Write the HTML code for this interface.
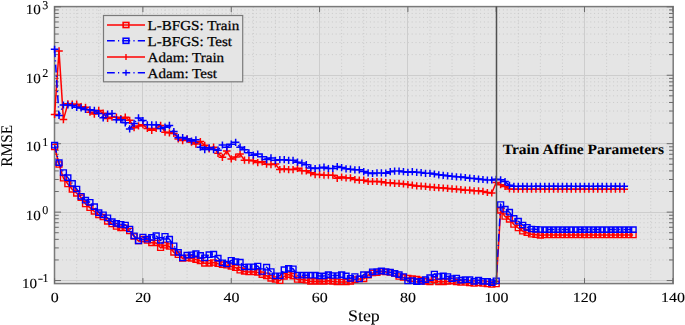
<!DOCTYPE html><html><head><meta charset="utf-8"><style>
html,body{margin:0;padding:0;background:#fff;}
body{width:685px;height:325px;overflow:hidden;position:relative;}
svg{position:absolute;left:0;top:0;filter:blur(0.35px);}
text{font-family:"Liberation Serif",serif;fill:#000000;stroke:#000000;stroke-width:0.25px;text-rendering:geometricPrecision;}
</style></head><body>
<svg width="685" height="325" viewBox="0 0 685 325">
<rect x="54.5" y="6.6" width="618.7" height="277.0" fill="#e5e5e5"/>
<path d="M76.68 6.6V283.6M98.76 6.6V283.6M120.84 6.6V283.6M165.00 6.6V283.6M187.08 6.6V283.6M209.16 6.6V283.6M253.32 6.6V283.6M275.40 6.6V283.6M297.48 6.6V283.6M341.64 6.6V283.6M363.72 6.6V283.6M385.80 6.6V283.6M429.96 6.6V283.6M452.04 6.6V283.6M474.12 6.6V283.6M518.28 6.6V283.6M540.36 6.6V283.6M562.44 6.6V283.6M606.60 6.6V283.6M628.68 6.6V283.6M650.76 6.6V283.6" stroke="#cacaca" stroke-width="1" stroke-dasharray="1 2.3" fill="none"/>
<path d="M54.5 259.96H673.2M54.5 247.91H673.2M54.5 239.36H673.2M54.5 232.72H673.2M54.5 227.30H673.2M54.5 222.72H673.2M54.5 218.75H673.2M54.5 215.25H673.2M54.5 191.52H673.2M54.5 179.47H673.2M54.5 170.92H673.2M54.5 164.28H673.2M54.5 158.86H673.2M54.5 154.28H673.2M54.5 150.31H673.2M54.5 146.81H673.2M54.5 123.08H673.2M54.5 111.03H673.2M54.5 102.48H673.2M54.5 95.84H673.2M54.5 90.42H673.2M54.5 85.84H673.2M54.5 81.87H673.2M54.5 78.37H673.2M54.5 54.64H673.2M54.5 42.59H673.2M54.5 34.04H673.2M54.5 27.40H673.2M54.5 21.98H673.2M54.5 17.40H673.2M54.5 13.43H673.2M54.5 9.93H673.2" stroke="#cacaca" stroke-width="1" stroke-dasharray="1 2.8" fill="none"/>
<path d="M142.50 6.6V283.6M231.50 6.6V283.6M319.50 6.6V283.6M407.50 6.6V283.6M496.50 6.6V283.6M584.50 6.6V283.6M54.5 212.50H673.2M54.5 143.50H673.2M54.5 75.50H673.2M54.5 280.50H673.2" stroke="#cdcdcd" stroke-width="1" fill="none"/>
<rect x="54.5" y="6.6" width="618.7" height="277.0" fill="none" stroke="#7a7a7a" stroke-width="1.5"/>
<path d="M54.60 283.6v-5.5M54.60 6.6v5.5M142.92 283.6v-5.5M142.92 6.6v5.5M231.24 283.6v-5.5M231.24 6.6v5.5M319.56 283.6v-5.5M319.56 6.6v5.5M407.88 283.6v-5.5M407.88 6.6v5.5M496.20 283.6v-5.5M496.20 6.6v5.5M584.52 283.6v-5.5M584.52 6.6v5.5M672.84 283.6v-5.5M672.84 6.6v5.5M54.5 280.56h6.5M673.2 280.56h-6.5M54.5 212.12h6.5M673.2 212.12h-6.5M54.5 143.68h6.5M673.2 143.68h-6.5M54.5 75.24h6.5M673.2 75.24h-6.5M54.5 6.80h6.5M673.2 6.80h-6.5M54.5 259.96h4.2M673.2 259.96h-4.2M54.5 247.91h4.2M673.2 247.91h-4.2M54.5 239.36h4.2M673.2 239.36h-4.2M54.5 232.72h4.2M673.2 232.72h-4.2M54.5 227.30h4.2M673.2 227.30h-4.2M54.5 222.72h4.2M673.2 222.72h-4.2M54.5 218.75h4.2M673.2 218.75h-4.2M54.5 215.25h4.2M673.2 215.25h-4.2M54.5 191.52h4.2M673.2 191.52h-4.2M54.5 179.47h4.2M673.2 179.47h-4.2M54.5 170.92h4.2M673.2 170.92h-4.2M54.5 164.28h4.2M673.2 164.28h-4.2M54.5 158.86h4.2M673.2 158.86h-4.2M54.5 154.28h4.2M673.2 154.28h-4.2M54.5 150.31h4.2M673.2 150.31h-4.2M54.5 146.81h4.2M673.2 146.81h-4.2M54.5 123.08h4.2M673.2 123.08h-4.2M54.5 111.03h4.2M673.2 111.03h-4.2M54.5 102.48h4.2M673.2 102.48h-4.2M54.5 95.84h4.2M673.2 95.84h-4.2M54.5 90.42h4.2M673.2 90.42h-4.2M54.5 85.84h4.2M673.2 85.84h-4.2M54.5 81.87h4.2M673.2 81.87h-4.2M54.5 78.37h4.2M673.2 78.37h-4.2M54.5 54.64h4.2M673.2 54.64h-4.2M54.5 42.59h4.2M673.2 42.59h-4.2M54.5 34.04h4.2M673.2 34.04h-4.2M54.5 27.40h4.2M673.2 27.40h-4.2M54.5 21.98h4.2M673.2 21.98h-4.2M54.5 17.40h4.2M673.2 17.40h-4.2M54.5 13.43h4.2M673.2 13.43h-4.2M54.5 9.93h4.2M673.2 9.93h-4.2" stroke="#6a6a6a" stroke-width="1.0" fill="none"/>
<polyline points="54.60,147.00 59.02,164.50 63.43,178.20 67.85,184.00 72.26,189.40 76.68,193.30 81.10,197.60 85.51,204.00 89.93,207.70 94.34,211.40 98.76,214.80 103.18,217.00 107.59,221.30 112.01,224.00 116.42,226.50 120.84,227.80 125.26,227.80 129.67,231.00 134.09,236.50 138.50,241.00 142.92,239.00 147.34,240.50 151.75,242.80 156.17,243.00 160.58,247.70 165.00,245.20 169.42,246.50 173.83,252.40 178.25,254.70 182.66,258.40 187.08,257.80 191.50,258.40 195.91,259.60 200.33,260.90 204.74,263.30 209.16,263.30 213.58,262.50 217.99,263.70 222.41,264.60 226.82,265.20 231.24,266.50 235.66,267.70 240.07,270.20 244.49,271.40 248.90,272.00 253.32,271.80 257.74,272.40 262.15,274.60 266.57,275.80 270.98,278.30 275.40,279.50 279.82,280.70 284.23,276.40 288.65,274.60 293.06,276.10 297.48,279.50 301.90,279.60 306.31,280.20 310.73,281.40 315.14,281.40 319.56,281.40 323.98,281.40 328.39,280.80 332.81,281.40 337.22,281.80 341.64,282.00 346.06,282.00 350.47,281.40 354.89,279.60 359.30,278.90 363.72,278.90 368.14,275.20 372.55,273.00 376.97,272.60 381.38,271.50 385.80,272.00 390.22,272.50 394.63,273.50 399.05,276.50 403.46,277.40 407.88,278.00 412.30,278.60 416.71,279.20 421.13,280.20 425.54,281.40 429.96,282.00 434.38,279.60 438.79,281.80 443.21,281.80 447.62,281.40 452.04,280.80 456.46,282.00 460.87,282.50 465.29,282.50 469.70,283.00 474.12,283.50 478.54,283.00 482.95,283.50 487.37,284.00 491.78,284.50 496.20,284.00 500.62,210.40 505.03,216.50 509.45,219.30 513.86,224.50 518.28,228.00 522.70,231.20 527.11,232.70 531.53,234.20 535.94,234.70 540.36,235.30 544.78,235.00 549.19,235.00 553.61,235.00 558.02,235.00 562.44,235.00 566.86,235.00 571.27,235.00 575.69,235.00 580.10,235.00 584.52,235.00 588.94,235.00 593.35,235.00 597.77,235.00 602.18,235.00 606.60,235.00 611.02,235.00 615.43,235.00 619.85,235.00 624.26,235.00 628.68,235.00 633.10,235.00" stroke="#ff0000" stroke-width="1.5" fill="none"/>
<path d="M51.65 144.35h5.9v5.3h-5.9zM56.07 161.85h5.9v5.3h-5.9zM60.48 175.55h5.9v5.3h-5.9zM64.90 181.35h5.9v5.3h-5.9zM69.31 186.75h5.9v5.3h-5.9zM73.73 190.65h5.9v5.3h-5.9zM78.15 194.95h5.9v5.3h-5.9zM82.56 201.35h5.9v5.3h-5.9zM86.98 205.05h5.9v5.3h-5.9zM91.39 208.75h5.9v5.3h-5.9zM95.81 212.15h5.9v5.3h-5.9zM100.23 214.35h5.9v5.3h-5.9zM104.64 218.65h5.9v5.3h-5.9zM109.06 221.35h5.9v5.3h-5.9zM113.47 223.85h5.9v5.3h-5.9zM117.89 225.15h5.9v5.3h-5.9zM122.31 225.15h5.9v5.3h-5.9zM126.72 228.35h5.9v5.3h-5.9zM131.14 233.85h5.9v5.3h-5.9zM135.55 238.35h5.9v5.3h-5.9zM139.97 236.35h5.9v5.3h-5.9zM144.39 237.85h5.9v5.3h-5.9zM148.80 240.15h5.9v5.3h-5.9zM153.22 240.35h5.9v5.3h-5.9zM157.63 245.05h5.9v5.3h-5.9zM162.05 242.55h5.9v5.3h-5.9zM166.47 243.85h5.9v5.3h-5.9zM170.88 249.75h5.9v5.3h-5.9zM175.30 252.05h5.9v5.3h-5.9zM179.71 255.75h5.9v5.3h-5.9zM184.13 255.15h5.9v5.3h-5.9zM188.55 255.75h5.9v5.3h-5.9zM192.96 256.95h5.9v5.3h-5.9zM197.38 258.25h5.9v5.3h-5.9zM201.79 260.65h5.9v5.3h-5.9zM206.21 260.65h5.9v5.3h-5.9zM210.63 259.85h5.9v5.3h-5.9zM215.04 261.05h5.9v5.3h-5.9zM219.46 261.95h5.9v5.3h-5.9zM223.87 262.55h5.9v5.3h-5.9zM228.29 263.85h5.9v5.3h-5.9zM232.71 265.05h5.9v5.3h-5.9zM237.12 267.55h5.9v5.3h-5.9zM241.54 268.75h5.9v5.3h-5.9zM245.95 269.35h5.9v5.3h-5.9zM250.37 269.15h5.9v5.3h-5.9zM254.79 269.75h5.9v5.3h-5.9zM259.20 271.95h5.9v5.3h-5.9zM263.62 273.15h5.9v5.3h-5.9zM268.03 275.65h5.9v5.3h-5.9zM272.45 276.85h5.9v5.3h-5.9zM276.87 278.05h5.9v5.3h-5.9zM281.28 273.75h5.9v5.3h-5.9zM285.70 271.95h5.9v5.3h-5.9zM290.11 273.45h5.9v5.3h-5.9zM294.53 276.85h5.9v5.3h-5.9zM298.95 276.95h5.9v5.3h-5.9zM303.36 277.55h5.9v5.3h-5.9zM307.78 278.75h5.9v5.3h-5.9zM312.19 278.75h5.9v5.3h-5.9zM316.61 278.75h5.9v5.3h-5.9zM321.03 278.75h5.9v5.3h-5.9zM325.44 278.15h5.9v5.3h-5.9zM329.86 278.75h5.9v5.3h-5.9zM334.27 279.15h5.9v5.3h-5.9zM338.69 279.35h5.9v5.3h-5.9zM343.11 279.35h5.9v5.3h-5.9zM347.52 278.75h5.9v5.3h-5.9zM351.94 276.95h5.9v5.3h-5.9zM356.35 276.25h5.9v5.3h-5.9zM360.77 276.25h5.9v5.3h-5.9zM365.19 272.55h5.9v5.3h-5.9zM369.60 270.35h5.9v5.3h-5.9zM374.02 269.95h5.9v5.3h-5.9zM378.43 268.85h5.9v5.3h-5.9zM382.85 269.35h5.9v5.3h-5.9zM387.27 269.85h5.9v5.3h-5.9zM391.68 270.85h5.9v5.3h-5.9zM396.10 273.85h5.9v5.3h-5.9zM400.51 274.75h5.9v5.3h-5.9zM404.93 275.35h5.9v5.3h-5.9zM409.35 275.95h5.9v5.3h-5.9zM413.76 276.55h5.9v5.3h-5.9zM418.18 277.55h5.9v5.3h-5.9zM422.59 278.75h5.9v5.3h-5.9zM427.01 279.35h5.9v5.3h-5.9zM431.43 276.95h5.9v5.3h-5.9zM435.84 279.15h5.9v5.3h-5.9zM440.26 279.15h5.9v5.3h-5.9zM444.67 278.75h5.9v5.3h-5.9zM449.09 278.15h5.9v5.3h-5.9zM453.51 279.35h5.9v5.3h-5.9zM457.92 279.85h5.9v5.3h-5.9zM462.34 279.85h5.9v5.3h-5.9zM466.75 280.35h5.9v5.3h-5.9zM471.17 280.85h5.9v5.3h-5.9zM475.59 280.35h5.9v5.3h-5.9zM480.00 280.85h5.9v5.3h-5.9zM484.42 281.35h5.9v5.3h-5.9zM488.83 281.85h5.9v5.3h-5.9zM493.25 281.35h5.9v5.3h-5.9zM497.67 207.75h5.9v5.3h-5.9zM502.08 213.85h5.9v5.3h-5.9zM506.50 216.65h5.9v5.3h-5.9zM510.91 221.85h5.9v5.3h-5.9zM515.33 225.35h5.9v5.3h-5.9zM519.75 228.55h5.9v5.3h-5.9zM524.16 230.05h5.9v5.3h-5.9zM528.58 231.55h5.9v5.3h-5.9zM532.99 232.05h5.9v5.3h-5.9zM537.41 232.65h5.9v5.3h-5.9zM541.83 232.35h5.9v5.3h-5.9zM546.24 232.35h5.9v5.3h-5.9zM550.66 232.35h5.9v5.3h-5.9zM555.07 232.35h5.9v5.3h-5.9zM559.49 232.35h5.9v5.3h-5.9zM563.91 232.35h5.9v5.3h-5.9zM568.32 232.35h5.9v5.3h-5.9zM572.74 232.35h5.9v5.3h-5.9zM577.15 232.35h5.9v5.3h-5.9zM581.57 232.35h5.9v5.3h-5.9zM585.99 232.35h5.9v5.3h-5.9zM590.40 232.35h5.9v5.3h-5.9zM594.82 232.35h5.9v5.3h-5.9zM599.23 232.35h5.9v5.3h-5.9zM603.65 232.35h5.9v5.3h-5.9zM608.07 232.35h5.9v5.3h-5.9zM612.48 232.35h5.9v5.3h-5.9zM616.90 232.35h5.9v5.3h-5.9zM621.31 232.35h5.9v5.3h-5.9zM625.73 232.35h5.9v5.3h-5.9zM630.15 232.35h5.9v5.3h-5.9z" stroke="#ff0000" stroke-width="1.4" fill="none"/>
<polyline points="54.60,145.20 59.02,162.70 63.43,172.50 67.85,177.60 72.26,183.40 76.68,189.00 81.10,196.30 85.51,200.20 89.93,202.30 94.34,206.60 98.76,212.70 103.18,214.80 107.59,217.80 112.01,221.70 116.42,223.40 120.84,224.30 125.26,225.00 129.67,229.00 134.09,235.80 138.50,240.90 142.92,237.00 147.34,239.20 151.75,237.40 156.17,235.70 160.58,240.40 165.00,236.30 169.42,239.20 173.83,245.80 178.25,252.40 182.66,257.90 187.08,255.10 191.50,254.80 195.91,253.60 200.33,255.40 204.74,257.80 209.16,254.70 213.58,254.10 217.99,258.10 222.41,262.80 226.82,264.00 231.24,260.30 235.66,261.60 240.07,262.20 244.49,267.00 248.90,266.80 253.32,266.80 257.74,266.00 262.15,271.50 266.57,267.20 270.98,271.50 275.40,275.80 279.82,275.80 284.23,269.60 288.65,268.40 293.06,268.80 297.48,275.20 301.90,275.20 306.31,275.20 310.73,275.20 315.14,275.20 319.56,275.90 323.98,275.90 328.39,274.60 332.81,275.50 337.22,275.50 341.64,274.60 346.06,275.90 350.47,278.30 354.89,276.50 359.30,278.90 363.72,274.60 368.14,274.60 372.55,271.80 376.97,271.50 381.38,270.90 385.80,271.50 390.22,272.20 394.63,273.40 399.05,274.60 403.46,276.50 407.88,281.00 412.30,280.50 416.71,281.60 421.13,281.40 425.54,279.60 429.96,277.70 434.38,274.00 438.79,276.50 443.21,275.90 447.62,276.50 452.04,278.60 456.46,278.00 460.87,280.20 465.29,279.60 469.70,279.60 474.12,281.40 478.54,280.20 482.95,281.40 487.37,281.40 491.78,282.60 496.20,280.80 500.62,204.50 505.03,209.20 509.45,212.20 513.86,218.40 518.28,221.20 522.70,225.00 527.11,227.30 531.53,229.00 535.94,229.30 540.36,229.50 544.78,229.60 549.19,229.60 553.61,229.60 558.02,229.60 562.44,229.60 566.86,229.60 571.27,229.60 575.69,229.60 580.10,229.60 584.52,229.60 588.94,229.60 593.35,229.60 597.77,229.60 602.18,229.60 606.60,229.60 611.02,229.60 615.43,229.60 619.85,229.60 624.26,229.60 628.68,229.60 633.10,229.60" stroke="#0000ff" stroke-width="1.5" fill="none" stroke-dasharray="7.8 3.2 1.2 3.2"/>
<path d="M51.65 142.55h5.9v5.3h-5.9zM56.07 160.05h5.9v5.3h-5.9zM60.48 169.85h5.9v5.3h-5.9zM64.90 174.95h5.9v5.3h-5.9zM69.31 180.75h5.9v5.3h-5.9zM73.73 186.35h5.9v5.3h-5.9zM78.15 193.65h5.9v5.3h-5.9zM82.56 197.55h5.9v5.3h-5.9zM86.98 199.65h5.9v5.3h-5.9zM91.39 203.95h5.9v5.3h-5.9zM95.81 210.05h5.9v5.3h-5.9zM100.23 212.15h5.9v5.3h-5.9zM104.64 215.15h5.9v5.3h-5.9zM109.06 219.05h5.9v5.3h-5.9zM113.47 220.75h5.9v5.3h-5.9zM117.89 221.65h5.9v5.3h-5.9zM122.31 222.35h5.9v5.3h-5.9zM126.72 226.35h5.9v5.3h-5.9zM131.14 233.15h5.9v5.3h-5.9zM135.55 238.25h5.9v5.3h-5.9zM139.97 234.35h5.9v5.3h-5.9zM144.39 236.55h5.9v5.3h-5.9zM148.80 234.75h5.9v5.3h-5.9zM153.22 233.05h5.9v5.3h-5.9zM157.63 237.75h5.9v5.3h-5.9zM162.05 233.65h5.9v5.3h-5.9zM166.47 236.55h5.9v5.3h-5.9zM170.88 243.15h5.9v5.3h-5.9zM175.30 249.75h5.9v5.3h-5.9zM179.71 255.25h5.9v5.3h-5.9zM184.13 252.45h5.9v5.3h-5.9zM188.55 252.15h5.9v5.3h-5.9zM192.96 250.95h5.9v5.3h-5.9zM197.38 252.75h5.9v5.3h-5.9zM201.79 255.15h5.9v5.3h-5.9zM206.21 252.05h5.9v5.3h-5.9zM210.63 251.45h5.9v5.3h-5.9zM215.04 255.45h5.9v5.3h-5.9zM219.46 260.15h5.9v5.3h-5.9zM223.87 261.35h5.9v5.3h-5.9zM228.29 257.65h5.9v5.3h-5.9zM232.71 258.95h5.9v5.3h-5.9zM237.12 259.55h5.9v5.3h-5.9zM241.54 264.35h5.9v5.3h-5.9zM245.95 264.15h5.9v5.3h-5.9zM250.37 264.15h5.9v5.3h-5.9zM254.79 263.35h5.9v5.3h-5.9zM259.20 268.85h5.9v5.3h-5.9zM263.62 264.55h5.9v5.3h-5.9zM268.03 268.85h5.9v5.3h-5.9zM272.45 273.15h5.9v5.3h-5.9zM276.87 273.15h5.9v5.3h-5.9zM281.28 266.95h5.9v5.3h-5.9zM285.70 265.75h5.9v5.3h-5.9zM290.11 266.15h5.9v5.3h-5.9zM294.53 272.55h5.9v5.3h-5.9zM298.95 272.55h5.9v5.3h-5.9zM303.36 272.55h5.9v5.3h-5.9zM307.78 272.55h5.9v5.3h-5.9zM312.19 272.55h5.9v5.3h-5.9zM316.61 273.25h5.9v5.3h-5.9zM321.03 273.25h5.9v5.3h-5.9zM325.44 271.95h5.9v5.3h-5.9zM329.86 272.85h5.9v5.3h-5.9zM334.27 272.85h5.9v5.3h-5.9zM338.69 271.95h5.9v5.3h-5.9zM343.11 273.25h5.9v5.3h-5.9zM347.52 275.65h5.9v5.3h-5.9zM351.94 273.85h5.9v5.3h-5.9zM356.35 276.25h5.9v5.3h-5.9zM360.77 271.95h5.9v5.3h-5.9zM365.19 271.95h5.9v5.3h-5.9zM369.60 269.15h5.9v5.3h-5.9zM374.02 268.85h5.9v5.3h-5.9zM378.43 268.25h5.9v5.3h-5.9zM382.85 268.85h5.9v5.3h-5.9zM387.27 269.55h5.9v5.3h-5.9zM391.68 270.75h5.9v5.3h-5.9zM396.10 271.95h5.9v5.3h-5.9zM400.51 273.85h5.9v5.3h-5.9zM404.93 278.35h5.9v5.3h-5.9zM409.35 277.85h5.9v5.3h-5.9zM413.76 278.95h5.9v5.3h-5.9zM418.18 278.75h5.9v5.3h-5.9zM422.59 276.95h5.9v5.3h-5.9zM427.01 275.05h5.9v5.3h-5.9zM431.43 271.35h5.9v5.3h-5.9zM435.84 273.85h5.9v5.3h-5.9zM440.26 273.25h5.9v5.3h-5.9zM444.67 273.85h5.9v5.3h-5.9zM449.09 275.95h5.9v5.3h-5.9zM453.51 275.35h5.9v5.3h-5.9zM457.92 277.55h5.9v5.3h-5.9zM462.34 276.95h5.9v5.3h-5.9zM466.75 276.95h5.9v5.3h-5.9zM471.17 278.75h5.9v5.3h-5.9zM475.59 277.55h5.9v5.3h-5.9zM480.00 278.75h5.9v5.3h-5.9zM484.42 278.75h5.9v5.3h-5.9zM488.83 279.95h5.9v5.3h-5.9zM493.25 278.15h5.9v5.3h-5.9zM497.67 201.85h5.9v5.3h-5.9zM502.08 206.55h5.9v5.3h-5.9zM506.50 209.55h5.9v5.3h-5.9zM510.91 215.75h5.9v5.3h-5.9zM515.33 218.55h5.9v5.3h-5.9zM519.75 222.35h5.9v5.3h-5.9zM524.16 224.65h5.9v5.3h-5.9zM528.58 226.35h5.9v5.3h-5.9zM532.99 226.65h5.9v5.3h-5.9zM537.41 226.85h5.9v5.3h-5.9zM541.83 226.95h5.9v5.3h-5.9zM546.24 226.95h5.9v5.3h-5.9zM550.66 226.95h5.9v5.3h-5.9zM555.07 226.95h5.9v5.3h-5.9zM559.49 226.95h5.9v5.3h-5.9zM563.91 226.95h5.9v5.3h-5.9zM568.32 226.95h5.9v5.3h-5.9zM572.74 226.95h5.9v5.3h-5.9zM577.15 226.95h5.9v5.3h-5.9zM581.57 226.95h5.9v5.3h-5.9zM585.99 226.95h5.9v5.3h-5.9zM590.40 226.95h5.9v5.3h-5.9zM594.82 226.95h5.9v5.3h-5.9zM599.23 226.95h5.9v5.3h-5.9zM603.65 226.95h5.9v5.3h-5.9zM608.07 226.95h5.9v5.3h-5.9zM612.48 226.95h5.9v5.3h-5.9zM616.90 226.95h5.9v5.3h-5.9zM621.31 226.95h5.9v5.3h-5.9zM625.73 226.95h5.9v5.3h-5.9zM630.15 226.95h5.9v5.3h-5.9z" stroke="#0000ff" stroke-width="1.4" fill="none"/>
<polyline points="54.60,114.40 59.02,50.90 63.43,119.60 67.85,103.80 72.26,104.20 76.68,104.20 81.10,106.70 85.51,107.30 89.93,112.20 94.34,114.10 98.76,110.40 103.18,113.20 107.59,118.40 112.01,117.20 116.42,117.20 120.84,118.50 125.26,117.20 129.67,120.30 134.09,127.70 138.50,125.90 142.92,124.70 147.34,128.40 151.75,130.30 156.17,128.50 160.58,125.40 165.00,132.20 169.42,132.80 173.83,133.40 178.25,138.90 182.66,140.60 187.08,138.80 191.50,142.20 195.91,144.10 200.33,141.60 204.74,145.30 209.16,149.00 213.58,147.20 217.99,153.30 222.41,157.30 226.82,150.90 231.24,158.90 235.66,157.10 240.07,154.00 244.49,160.20 248.90,160.20 253.32,160.80 257.74,162.60 262.15,161.80 266.57,164.20 270.98,164.60 275.40,164.00 279.82,169.60 284.23,168.90 288.65,169.60 293.06,169.60 297.48,168.30 301.90,170.80 306.31,170.80 310.73,172.80 315.14,174.60 319.56,174.60 323.98,175.20 328.39,175.20 332.81,175.20 337.22,178.30 341.64,177.10 346.06,178.00 350.47,177.80 354.89,179.60 359.30,180.20 363.72,180.20 368.14,181.50 372.55,181.50 376.97,181.50 381.38,181.80 385.80,182.70 390.22,182.80 394.63,183.40 399.05,183.40 403.46,184.00 407.88,184.60 412.30,185.20 416.71,185.90 421.13,186.20 425.54,186.40 429.96,187.10 434.38,187.40 438.79,187.70 443.21,188.00 447.62,188.40 452.04,188.80 456.46,189.20 460.87,189.60 465.29,190.20 469.70,190.20 474.12,190.80 478.54,190.80 482.95,191.40 487.37,192.50 491.78,193.00 496.20,182.50 500.62,184.70 505.03,186.50 509.45,189.00 513.86,189.20 518.28,189.20 522.70,189.20 527.11,189.20 531.53,189.20 535.94,189.20 540.36,189.20 544.78,189.20 549.19,189.20 553.61,189.20 558.02,189.20 562.44,189.20 566.86,189.20 571.27,189.20 575.69,189.20 580.10,189.20 584.52,189.20 588.94,189.20 593.35,189.20 597.77,189.20 602.18,189.20 606.60,189.20 611.02,189.20 615.43,189.20 619.85,189.20 624.26,189.20" stroke="#ff0000" stroke-width="1.5" fill="none"/>
<path d="M50.80 114.40h7.6M54.60 110.80v7.2M55.22 50.90h7.6M59.02 47.30v7.2M59.63 119.60h7.6M63.43 116.00v7.2M64.05 103.80h7.6M67.85 100.20v7.2M68.46 104.20h7.6M72.26 100.60v7.2M72.88 104.20h7.6M76.68 100.60v7.2M77.30 106.70h7.6M81.10 103.10v7.2M81.71 107.30h7.6M85.51 103.70v7.2M86.13 112.20h7.6M89.93 108.60v7.2M90.54 114.10h7.6M94.34 110.50v7.2M94.96 110.40h7.6M98.76 106.80v7.2M99.38 113.20h7.6M103.18 109.60v7.2M103.79 118.40h7.6M107.59 114.80v7.2M108.21 117.20h7.6M112.01 113.60v7.2M112.62 117.20h7.6M116.42 113.60v7.2M117.04 118.50h7.6M120.84 114.90v7.2M121.46 117.20h7.6M125.26 113.60v7.2M125.87 120.30h7.6M129.67 116.70v7.2M130.29 127.70h7.6M134.09 124.10v7.2M134.70 125.90h7.6M138.50 122.30v7.2M139.12 124.70h7.6M142.92 121.10v7.2M143.54 128.40h7.6M147.34 124.80v7.2M147.95 130.30h7.6M151.75 126.70v7.2M152.37 128.50h7.6M156.17 124.90v7.2M156.78 125.40h7.6M160.58 121.80v7.2M161.20 132.20h7.6M165.00 128.60v7.2M165.62 132.80h7.6M169.42 129.20v7.2M170.03 133.40h7.6M173.83 129.80v7.2M174.45 138.90h7.6M178.25 135.30v7.2M178.86 140.60h7.6M182.66 137.00v7.2M183.28 138.80h7.6M187.08 135.20v7.2M187.70 142.20h7.6M191.50 138.60v7.2M192.11 144.10h7.6M195.91 140.50v7.2M196.53 141.60h7.6M200.33 138.00v7.2M200.94 145.30h7.6M204.74 141.70v7.2M205.36 149.00h7.6M209.16 145.40v7.2M209.78 147.20h7.6M213.58 143.60v7.2M214.19 153.30h7.6M217.99 149.70v7.2M218.61 157.30h7.6M222.41 153.70v7.2M223.02 150.90h7.6M226.82 147.30v7.2M227.44 158.90h7.6M231.24 155.30v7.2M231.86 157.10h7.6M235.66 153.50v7.2M236.27 154.00h7.6M240.07 150.40v7.2M240.69 160.20h7.6M244.49 156.60v7.2M245.10 160.20h7.6M248.90 156.60v7.2M249.52 160.80h7.6M253.32 157.20v7.2M253.94 162.60h7.6M257.74 159.00v7.2M258.35 161.80h7.6M262.15 158.20v7.2M262.77 164.20h7.6M266.57 160.60v7.2M267.18 164.60h7.6M270.98 161.00v7.2M271.60 164.00h7.6M275.40 160.40v7.2M276.02 169.60h7.6M279.82 166.00v7.2M280.43 168.90h7.6M284.23 165.30v7.2M284.85 169.60h7.6M288.65 166.00v7.2M289.26 169.60h7.6M293.06 166.00v7.2M293.68 168.30h7.6M297.48 164.70v7.2M298.10 170.80h7.6M301.90 167.20v7.2M302.51 170.80h7.6M306.31 167.20v7.2M306.93 172.80h7.6M310.73 169.20v7.2M311.34 174.60h7.6M315.14 171.00v7.2M315.76 174.60h7.6M319.56 171.00v7.2M320.18 175.20h7.6M323.98 171.60v7.2M324.59 175.20h7.6M328.39 171.60v7.2M329.01 175.20h7.6M332.81 171.60v7.2M333.42 178.30h7.6M337.22 174.70v7.2M337.84 177.10h7.6M341.64 173.50v7.2M342.26 178.00h7.6M346.06 174.40v7.2M346.67 177.80h7.6M350.47 174.20v7.2M351.09 179.60h7.6M354.89 176.00v7.2M355.50 180.20h7.6M359.30 176.60v7.2M359.92 180.20h7.6M363.72 176.60v7.2M364.34 181.50h7.6M368.14 177.90v7.2M368.75 181.50h7.6M372.55 177.90v7.2M373.17 181.50h7.6M376.97 177.90v7.2M377.58 181.80h7.6M381.38 178.20v7.2M382.00 182.70h7.6M385.80 179.10v7.2M386.42 182.80h7.6M390.22 179.20v7.2M390.83 183.40h7.6M394.63 179.80v7.2M395.25 183.40h7.6M399.05 179.80v7.2M399.66 184.00h7.6M403.46 180.40v7.2M404.08 184.60h7.6M407.88 181.00v7.2M408.50 185.20h7.6M412.30 181.60v7.2M412.91 185.90h7.6M416.71 182.30v7.2M417.33 186.20h7.6M421.13 182.60v7.2M421.74 186.40h7.6M425.54 182.80v7.2M426.16 187.10h7.6M429.96 183.50v7.2M430.58 187.40h7.6M434.38 183.80v7.2M434.99 187.70h7.6M438.79 184.10v7.2M439.41 188.00h7.6M443.21 184.40v7.2M443.82 188.40h7.6M447.62 184.80v7.2M448.24 188.80h7.6M452.04 185.20v7.2M452.66 189.20h7.6M456.46 185.60v7.2M457.07 189.60h7.6M460.87 186.00v7.2M461.49 190.20h7.6M465.29 186.60v7.2M465.90 190.20h7.6M469.70 186.60v7.2M470.32 190.80h7.6M474.12 187.20v7.2M474.74 190.80h7.6M478.54 187.20v7.2M479.15 191.40h7.6M482.95 187.80v7.2M483.57 192.50h7.6M487.37 188.90v7.2M487.98 193.00h7.6M491.78 189.40v7.2M492.40 182.50h7.6M496.20 178.90v7.2M496.82 184.70h7.6M500.62 181.10v7.2M501.23 186.50h7.6M505.03 182.90v7.2M505.65 189.00h7.6M509.45 185.40v7.2M510.06 189.20h7.6M513.86 185.60v7.2M514.48 189.20h7.6M518.28 185.60v7.2M518.90 189.20h7.6M522.70 185.60v7.2M523.31 189.20h7.6M527.11 185.60v7.2M527.73 189.20h7.6M531.53 185.60v7.2M532.14 189.20h7.6M535.94 185.60v7.2M536.56 189.20h7.6M540.36 185.60v7.2M540.98 189.20h7.6M544.78 185.60v7.2M545.39 189.20h7.6M549.19 185.60v7.2M549.81 189.20h7.6M553.61 185.60v7.2M554.22 189.20h7.6M558.02 185.60v7.2M558.64 189.20h7.6M562.44 185.60v7.2M563.06 189.20h7.6M566.86 185.60v7.2M567.47 189.20h7.6M571.27 185.60v7.2M571.89 189.20h7.6M575.69 185.60v7.2M576.30 189.20h7.6M580.10 185.60v7.2M580.72 189.20h7.6M584.52 185.60v7.2M585.14 189.20h7.6M588.94 185.60v7.2M589.55 189.20h7.6M593.35 185.60v7.2M593.97 189.20h7.6M597.77 185.60v7.2M598.38 189.20h7.6M602.18 185.60v7.2M602.80 189.20h7.6M606.60 185.60v7.2M607.22 189.20h7.6M611.02 185.60v7.2M611.63 189.20h7.6M615.43 185.60v7.2M616.05 189.20h7.6M619.85 185.60v7.2M620.46 189.20h7.6M624.26 185.60v7.2" stroke="#ff0000" stroke-width="1.5" fill="none"/>
<polyline points="54.60,49.30 59.02,115.50 63.43,105.00 67.85,105.00 72.26,105.50 76.68,107.30 81.10,107.90 85.51,109.50 89.93,109.80 94.34,110.40 98.76,113.50 103.18,117.80 107.59,114.00 112.01,113.50 116.42,119.70 120.84,119.70 125.26,122.80 129.67,128.90 134.09,123.40 138.50,117.90 142.92,120.50 147.34,124.80 151.75,124.80 156.17,124.80 160.58,128.50 165.00,127.20 169.42,125.40 173.83,131.60 178.25,137.70 182.66,137.50 187.08,139.00 191.50,141.00 195.91,139.80 200.33,147.20 204.74,149.60 209.16,147.80 213.58,149.60 217.99,150.20 222.41,145.00 226.82,147.20 231.24,144.20 235.66,142.30 240.07,147.20 244.49,149.70 248.90,152.80 253.32,155.20 257.74,154.00 262.15,156.80 266.57,159.60 270.98,157.90 275.40,160.30 279.82,159.70 284.23,159.70 288.65,160.30 293.06,160.30 297.48,162.20 301.90,163.10 306.31,164.70 310.73,167.90 315.14,168.50 319.56,167.90 323.98,167.20 328.39,168.50 332.81,168.50 337.22,166.60 341.64,167.60 346.06,168.80 350.47,169.20 354.89,169.80 359.30,169.80 363.72,171.60 368.14,172.90 372.55,173.50 376.97,172.90 381.38,172.90 385.80,173.20 390.22,171.70 394.63,171.10 399.05,171.10 403.46,171.70 407.88,172.30 412.30,171.70 416.71,172.30 421.13,172.60 425.54,173.30 429.96,173.30 434.38,174.00 438.79,174.80 443.21,175.30 447.62,175.80 452.04,176.30 456.46,176.80 460.87,177.00 465.29,177.50 469.70,178.20 474.12,178.50 478.54,179.10 482.95,179.50 487.37,180.00 491.78,180.00 496.20,179.30 500.62,179.80 505.03,181.60 509.45,185.30 513.86,186.30 518.28,186.30 522.70,186.30 527.11,186.30 531.53,186.30 535.94,186.30 540.36,186.30 544.78,186.30 549.19,186.30 553.61,186.30 558.02,186.30 562.44,186.30 566.86,186.30 571.27,186.30 575.69,186.30 580.10,186.30 584.52,186.30 588.94,186.30 593.35,186.30 597.77,186.30 602.18,186.30 606.60,186.30 611.02,186.30 615.43,186.30 619.85,186.30 624.26,186.30" stroke="#0000ff" stroke-width="1.5" fill="none" stroke-dasharray="7.8 3.2 1.2 3.2"/>
<path d="M50.80 49.30h7.6M54.60 45.70v7.2M55.22 115.50h7.6M59.02 111.90v7.2M59.63 105.00h7.6M63.43 101.40v7.2M64.05 105.00h7.6M67.85 101.40v7.2M68.46 105.50h7.6M72.26 101.90v7.2M72.88 107.30h7.6M76.68 103.70v7.2M77.30 107.90h7.6M81.10 104.30v7.2M81.71 109.50h7.6M85.51 105.90v7.2M86.13 109.80h7.6M89.93 106.20v7.2M90.54 110.40h7.6M94.34 106.80v7.2M94.96 113.50h7.6M98.76 109.90v7.2M99.38 117.80h7.6M103.18 114.20v7.2M103.79 114.00h7.6M107.59 110.40v7.2M108.21 113.50h7.6M112.01 109.90v7.2M112.62 119.70h7.6M116.42 116.10v7.2M117.04 119.70h7.6M120.84 116.10v7.2M121.46 122.80h7.6M125.26 119.20v7.2M125.87 128.90h7.6M129.67 125.30v7.2M130.29 123.40h7.6M134.09 119.80v7.2M134.70 117.90h7.6M138.50 114.30v7.2M139.12 120.50h7.6M142.92 116.90v7.2M143.54 124.80h7.6M147.34 121.20v7.2M147.95 124.80h7.6M151.75 121.20v7.2M152.37 124.80h7.6M156.17 121.20v7.2M156.78 128.50h7.6M160.58 124.90v7.2M161.20 127.20h7.6M165.00 123.60v7.2M165.62 125.40h7.6M169.42 121.80v7.2M170.03 131.60h7.6M173.83 128.00v7.2M174.45 137.70h7.6M178.25 134.10v7.2M178.86 137.50h7.6M182.66 133.90v7.2M183.28 139.00h7.6M187.08 135.40v7.2M187.70 141.00h7.6M191.50 137.40v7.2M192.11 139.80h7.6M195.91 136.20v7.2M196.53 147.20h7.6M200.33 143.60v7.2M200.94 149.60h7.6M204.74 146.00v7.2M205.36 147.80h7.6M209.16 144.20v7.2M209.78 149.60h7.6M213.58 146.00v7.2M214.19 150.20h7.6M217.99 146.60v7.2M218.61 145.00h7.6M222.41 141.40v7.2M223.02 147.20h7.6M226.82 143.60v7.2M227.44 144.20h7.6M231.24 140.60v7.2M231.86 142.30h7.6M235.66 138.70v7.2M236.27 147.20h7.6M240.07 143.60v7.2M240.69 149.70h7.6M244.49 146.10v7.2M245.10 152.80h7.6M248.90 149.20v7.2M249.52 155.20h7.6M253.32 151.60v7.2M253.94 154.00h7.6M257.74 150.40v7.2M258.35 156.80h7.6M262.15 153.20v7.2M262.77 159.60h7.6M266.57 156.00v7.2M267.18 157.90h7.6M270.98 154.30v7.2M271.60 160.30h7.6M275.40 156.70v7.2M276.02 159.70h7.6M279.82 156.10v7.2M280.43 159.70h7.6M284.23 156.10v7.2M284.85 160.30h7.6M288.65 156.70v7.2M289.26 160.30h7.6M293.06 156.70v7.2M293.68 162.20h7.6M297.48 158.60v7.2M298.10 163.10h7.6M301.90 159.50v7.2M302.51 164.70h7.6M306.31 161.10v7.2M306.93 167.90h7.6M310.73 164.30v7.2M311.34 168.50h7.6M315.14 164.90v7.2M315.76 167.90h7.6M319.56 164.30v7.2M320.18 167.20h7.6M323.98 163.60v7.2M324.59 168.50h7.6M328.39 164.90v7.2M329.01 168.50h7.6M332.81 164.90v7.2M333.42 166.60h7.6M337.22 163.00v7.2M337.84 167.60h7.6M341.64 164.00v7.2M342.26 168.80h7.6M346.06 165.20v7.2M346.67 169.20h7.6M350.47 165.60v7.2M351.09 169.80h7.6M354.89 166.20v7.2M355.50 169.80h7.6M359.30 166.20v7.2M359.92 171.60h7.6M363.72 168.00v7.2M364.34 172.90h7.6M368.14 169.30v7.2M368.75 173.50h7.6M372.55 169.90v7.2M373.17 172.90h7.6M376.97 169.30v7.2M377.58 172.90h7.6M381.38 169.30v7.2M382.00 173.20h7.6M385.80 169.60v7.2M386.42 171.70h7.6M390.22 168.10v7.2M390.83 171.10h7.6M394.63 167.50v7.2M395.25 171.10h7.6M399.05 167.50v7.2M399.66 171.70h7.6M403.46 168.10v7.2M404.08 172.30h7.6M407.88 168.70v7.2M408.50 171.70h7.6M412.30 168.10v7.2M412.91 172.30h7.6M416.71 168.70v7.2M417.33 172.60h7.6M421.13 169.00v7.2M421.74 173.30h7.6M425.54 169.70v7.2M426.16 173.30h7.6M429.96 169.70v7.2M430.58 174.00h7.6M434.38 170.40v7.2M434.99 174.80h7.6M438.79 171.20v7.2M439.41 175.30h7.6M443.21 171.70v7.2M443.82 175.80h7.6M447.62 172.20v7.2M448.24 176.30h7.6M452.04 172.70v7.2M452.66 176.80h7.6M456.46 173.20v7.2M457.07 177.00h7.6M460.87 173.40v7.2M461.49 177.50h7.6M465.29 173.90v7.2M465.90 178.20h7.6M469.70 174.60v7.2M470.32 178.50h7.6M474.12 174.90v7.2M474.74 179.10h7.6M478.54 175.50v7.2M479.15 179.50h7.6M482.95 175.90v7.2M483.57 180.00h7.6M487.37 176.40v7.2M487.98 180.00h7.6M491.78 176.40v7.2M492.40 179.30h7.6M496.20 175.70v7.2M496.82 179.80h7.6M500.62 176.20v7.2M501.23 181.60h7.6M505.03 178.00v7.2M505.65 185.30h7.6M509.45 181.70v7.2M510.06 186.30h7.6M513.86 182.70v7.2M514.48 186.30h7.6M518.28 182.70v7.2M518.90 186.30h7.6M522.70 182.70v7.2M523.31 186.30h7.6M527.11 182.70v7.2M527.73 186.30h7.6M531.53 182.70v7.2M532.14 186.30h7.6M535.94 182.70v7.2M536.56 186.30h7.6M540.36 182.70v7.2M540.98 186.30h7.6M544.78 182.70v7.2M545.39 186.30h7.6M549.19 182.70v7.2M549.81 186.30h7.6M553.61 182.70v7.2M554.22 186.30h7.6M558.02 182.70v7.2M558.64 186.30h7.6M562.44 182.70v7.2M563.06 186.30h7.6M566.86 182.70v7.2M567.47 186.30h7.6M571.27 182.70v7.2M571.89 186.30h7.6M575.69 182.70v7.2M576.30 186.30h7.6M580.10 182.70v7.2M580.72 186.30h7.6M584.52 182.70v7.2M585.14 186.30h7.6M588.94 182.70v7.2M589.55 186.30h7.6M593.35 182.70v7.2M593.97 186.30h7.6M597.77 182.70v7.2M598.38 186.30h7.6M602.18 182.70v7.2M602.80 186.30h7.6M606.60 182.70v7.2M607.22 186.30h7.6M611.02 182.70v7.2M611.63 186.30h7.6M615.43 182.70v7.2M616.05 186.30h7.6M619.85 182.70v7.2M620.46 186.30h7.6M624.26 182.70v7.2" stroke="#0000ff" stroke-width="1.5" fill="none"/>
<path d="M496.50 6.6V283.6" stroke="#505050" stroke-width="1.5"/>
<rect x="103.5" y="15.5" width="139.2" height="66.3" fill="#e5e5e5" stroke="#7a7a7a" stroke-width="1.2"/>
<path d="M107 25.0H145" stroke="#ff0000" stroke-width="1.5"/>
<rect x="123.15" y="22.45" width="5.7" height="5.1" stroke="#ff0000" stroke-width="1.6" fill="none"/>
<text transform="translate(147.60,29.90) scale(1.1,1)" font-size="13.7">L-BFGS: Train</text>
<path d="M107 40.8H145" stroke="#0000ff" stroke-width="1.5" stroke-dasharray="7.8 3.2 1.2 3.2"/>
<rect x="123.15" y="38.25" width="5.7" height="5.1" stroke="#0000ff" stroke-width="1.6" fill="none"/>
<text transform="translate(147.60,45.70) scale(1.1,1)" font-size="13.7">L-BFGS: Test</text>
<path d="M107 57.0H145" stroke="#ff0000" stroke-width="1.5"/>
<path d="M126 54.0v6.0" stroke="#ff0000" stroke-width="1.4"/>
<text transform="translate(147.60,61.90) scale(1.1,1)" font-size="13.7">Adam: Train</text>
<path d="M107 72.7H145" stroke="#0000ff" stroke-width="1.5" stroke-dasharray="7.8 3.2 1.2 3.2"/>
<path d="M126 69.7v6.0" stroke="#0000ff" stroke-width="1.4"/>
<text transform="translate(147.60,77.60) scale(1.1,1)" font-size="13.7">Adam: Test</text>
<text transform="translate(40.80,14.40) scale(1.08,1)" font-size="14.0" text-anchor="end" style="stroke-width:0.1px">10</text>
<text transform="translate(42.30,8.70) scale(1.0,1)" font-size="12" style="stroke-width:0.1px">3</text>
<text transform="translate(40.80,82.84) scale(1.08,1)" font-size="14.0" text-anchor="end" style="stroke-width:0.1px">10</text>
<text transform="translate(42.30,77.14) scale(1.0,1)" font-size="12" style="stroke-width:0.1px">2</text>
<text transform="translate(40.80,151.28) scale(1.08,1)" font-size="14.0" text-anchor="end" style="stroke-width:0.1px">10</text>
<text transform="translate(42.30,145.58) scale(1.0,1)" font-size="12" style="stroke-width:0.1px">1</text>
<text transform="translate(40.80,219.72) scale(1.08,1)" font-size="14.0" text-anchor="end" style="stroke-width:0.1px">10</text>
<text transform="translate(42.30,214.02) scale(1.0,1)" font-size="12" style="stroke-width:0.1px">0</text>
<text transform="translate(37.00,288.16) scale(1.08,1)" font-size="14.0" text-anchor="end" style="stroke-width:0.1px">10</text>
<text transform="translate(37.70,282.36) scale(1.35,1)" font-size="12" style="stroke-width:0.1px">-</text>
<text transform="translate(42.60,282.36) scale(1.0,1)" font-size="12" style="stroke-width:0.1px">1</text>
<text transform="translate(54.80,301.90) scale(1.14,1)" font-size="14.0" text-anchor="middle" style="stroke-width:0.1px">0</text>
<text transform="translate(143.12,301.90) scale(1.14,1)" font-size="14.0" text-anchor="middle" style="stroke-width:0.1px">20</text>
<text transform="translate(231.44,301.90) scale(1.14,1)" font-size="14.0" text-anchor="middle" style="stroke-width:0.1px">40</text>
<text transform="translate(319.76,301.90) scale(1.14,1)" font-size="14.0" text-anchor="middle" style="stroke-width:0.1px">60</text>
<text transform="translate(408.08,301.90) scale(1.14,1)" font-size="14.0" text-anchor="middle" style="stroke-width:0.1px">80</text>
<text transform="translate(496.40,301.90) scale(1.14,1)" font-size="14.0" text-anchor="middle" style="stroke-width:0.1px">100</text>
<text transform="translate(584.72,301.90) scale(1.14,1)" font-size="14.0" text-anchor="middle" style="stroke-width:0.1px">120</text>
<text transform="translate(673.04,301.90) scale(1.14,1)" font-size="14.0" text-anchor="middle" style="stroke-width:0.1px">140</text>
<text transform="translate(363.90,320.90) scale(1.12,1)" font-size="16" text-anchor="middle" style="stroke-width:0.08px">Step</text>
<text transform="translate(11.6,145.8) scale(1.06,1) rotate(-90)" font-size="15.3" text-anchor="middle" style="stroke-width:0.08px">RMSE</text>
<text transform="translate(502.80,153.50) scale(1.09,1)" font-size="14.2" font-weight="bold" style="stroke-width:0.05px">Train Affine Parameters</text>
</svg></body></html>
